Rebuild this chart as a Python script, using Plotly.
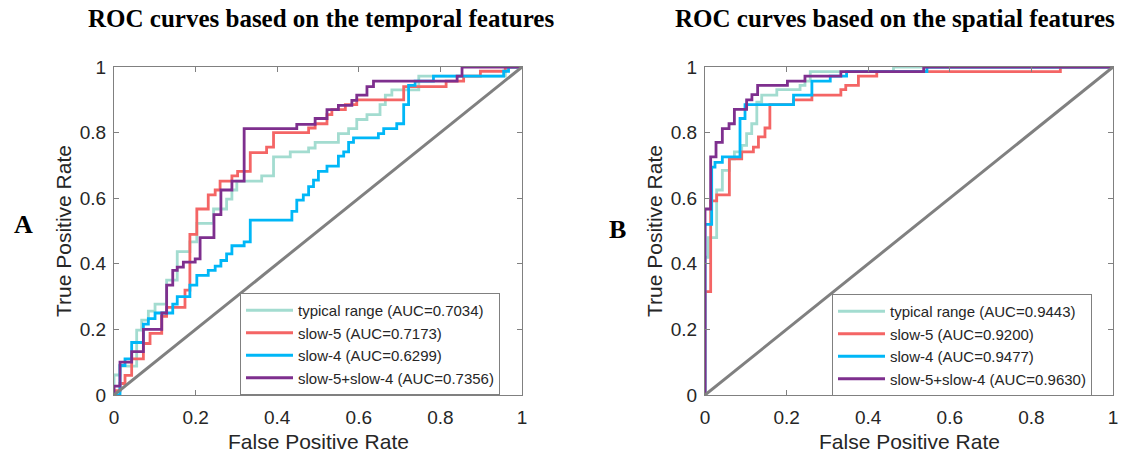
import plotly.graph_objects as go

# ---------------- data ----------------
SERIES = ["typical range", "slow-5", "slow-4", "slow-5+slow-4"]
AUC_A = ["0.7034", "0.7173", "0.6299", "0.7356"]
AUC_B = ["0.9443", "0.9200", "0.9477", "0.9630"]
TICKS = [0, 0.2, 0.4, 0.6, 0.8, 1]
TICK_TEXT = ["0", "0.2", "0.4", "0.6", "0.8", "1"]
DIAG = [0, 1]

# Panel A (temporal features): step corners (fpr where a jump happens, tpr after jump)
a_typ_fpr = [0, 0, 0.0147, 0.0556, 0.0679, 0.0842, 0.1006, 0.129, 0.155, 0.186, 0.203, 0.244, 0.276, 0.289, 0.301,
             0.362, 0.391, 0.432, 0.477, 0.493, 0.550, 0.575, 0.595, 0.620, 0.652, 0.665, 0.681, 0.747, 0.959, 1]
a_typ_tpr = [0, 0.061, 0.088, 0.198, 0.228, 0.256, 0.277, 0.35, 0.437, 0.467, 0.523, 0.567, 0.597, 0.625, 0.652,
             0.668, 0.726, 0.741, 0.753, 0.77, 0.797, 0.812, 0.84, 0.855, 0.885, 0.914, 0.93, 0.972, 1.0, 1]

a_s5_fpr = [0, 0, 0.0147, 0.027, 0.0433, 0.072, 0.0883, 0.117, 0.129, 0.174, 0.186, 0.203, 0.231, 0.248, 0.260,
            0.289, 0.303, 0.334, 0.374, 0.391, 0.477, 0.493, 0.522, 0.534, 0.567, 0.595, 0.710, 0.814, 0.857,
            0.898, 0.959, 1]
a_s5_tpr = [0, 0.013, 0.035, 0.06, 0.11, 0.157, 0.188, 0.24, 0.267, 0.32, 0.49, 0.567, 0.61, 0.625, 0.652,
            0.668, 0.682, 0.739, 0.756, 0.80, 0.814, 0.827, 0.855, 0.87, 0.885, 0.90, 0.94, 0.957, 0.972,
            0.987, 1.0, 1]

a_s4_fpr = [0, 0.0147, 0.027, 0.0433, 0.072, 0.0842, 0.1006, 0.144, 0.155, 0.186, 0.203, 0.231, 0.248, 0.262,
            0.276, 0.289, 0.319, 0.334, 0.436, 0.448, 0.464, 0.477, 0.489, 0.501, 0.522, 0.550, 0.563, 0.575,
            0.587, 0.648, 0.661, 0.693, 0.710, 0.722, 0.738, 0.783, 0.955, 0.967, 1]
a_s4_tpr = [0, 0.09, 0.11, 0.16, 0.216, 0.233, 0.25, 0.277, 0.30, 0.335, 0.365, 0.38, 0.393, 0.41,
            0.43, 0.455, 0.467, 0.533, 0.56, 0.594, 0.61, 0.635, 0.655, 0.682, 0.698, 0.728, 0.741, 0.77,
            0.784, 0.797, 0.812, 0.827, 0.885, 0.944, 0.957, 0.972, 0.987, 1.0, 1]

a_comb_fpr = [0, 0, 0.0147, 0.0433, 0.072, 0.117, 0.129, 0.144, 0.155, 0.170, 0.199, 0.211, 0.245, 0.262, 0.289,
              0.319, 0.448, 0.493, 0.522, 0.550, 0.583, 0.595, 0.620, 0.636, 0.841, 0.853, 1]
a_comb_tpr = [0, 0.027, 0.10, 0.132, 0.20, 0.25, 0.335, 0.38, 0.39, 0.405, 0.415, 0.48, 0.55, 0.625, 0.652,
              0.812, 0.825, 0.843, 0.87, 0.883, 0.898, 0.914, 0.94, 0.957, 0.972, 1.0, 1]

# Panel B (spatial features)
b_typ_fpr = [0, 0, 0.0082, 0.0286, 0.0425, 0.0597, 0.072, 0.090, 0.102, 0.1145, 0.127, 0.139, 0.176, 0.233,
             0.245, 0.258, 0.462, 1]
b_typ_tpr = [0, 0.42, 0.48, 0.625, 0.685, 0.72, 0.741, 0.761, 0.797, 0.827, 0.893, 0.914, 0.931, 0.944,
             0.957, 0.986, 1.0, 1]

b_s5_fpr = [0, 0, 0.0139, 0.0286, 0.0597, 0.090, 0.1186, 0.131, 0.147, 0.159, 0.217, 0.262, 0.333, 0.345,
            0.376, 0.421, 0.871, 1]
b_s5_tpr = [0, 0.315, 0.592, 0.61, 0.72, 0.741, 0.756, 0.787, 0.814, 0.885, 0.90, 0.914, 0.931, 0.944,
            0.972, 0.986, 1.0, 1]

b_s4_fpr = [0, 0, 0.0164, 0.0245, 0.0425, 0.0858, 0.0981, 0.217, 0.262, 0.307, 0.347, 0.544, 1]
b_s4_tpr = [0, 0.52, 0.695, 0.709, 0.726, 0.843, 0.885, 0.914, 0.957, 0.972, 0.986, 1.0, 1]

b_comb_fpr = [0, 0, 0.0139, 0.027, 0.0425, 0.0589, 0.072, 0.102, 0.115, 0.129, 0.202, 0.245, 0.333, 0.536, 1]
b_comb_tpr = [0, 0.567, 0.726, 0.77, 0.812, 0.827, 0.871, 0.90, 0.916, 0.944, 0.957, 0.972, 0.986, 1.0, 1]

COLORS = ["#a3dcd0", "#f46565", "#00b7f7", "#7e2f8e"]

panels = [
    ("x", "y", "legend", AUC_A, [(a_typ_fpr, a_typ_tpr), (a_s5_fpr, a_s5_tpr), (a_s4_fpr, a_s4_tpr), (a_comb_fpr, a_comb_tpr)]),
    ("x2", "y2", "legend2", AUC_B, [(b_typ_fpr, b_typ_tpr), (b_s5_fpr, b_s5_tpr), (b_s4_fpr, b_s4_tpr), (b_comb_fpr, b_comb_tpr)]),
]

fig = go.Figure()
for xa, ya, leg, aucs, curves in panels:
    for name, auc, color, (fx, ty) in zip(SERIES, aucs, COLORS, curves):
        fig.add_trace(go.Scatter(
            x=fx, y=ty, mode="lines", line=dict(color=color, width=2.8, shape="hv"),
            name=f"{name} (AUC={auc})", xaxis=xa, yaxis=ya, legend=leg))
    fig.add_trace(go.Scatter(x=DIAG, y=DIAG, mode="lines", line=dict(color="#808080", width=3),
                             showlegend=False, xaxis=xa, yaxis=ya, hoverinfo="skip"))

W, H = 1126, 454


def px(x):
    return x / W


def py(y):
    return 1 - y / H


axcommon = dict(range=[0, 1], tickvals=TICKS, ticktext=TICK_TEXT, ticks="inside", ticklen=5,
                tickcolor="#808080", showline=True, linecolor="#808080", linewidth=1, mirror="ticks",
                showgrid=False, zeroline=False, automargin=False,
                tickfont=dict(family="Liberation Sans", size=19, color="#262626"),
                fixedrange=True)

legfont = dict(family="Liberation Sans", size=15, color="#262626")
fig.update_layout(
    width=W, height=H, margin=dict(l=0, r=0, t=0, b=0),
    paper_bgcolor="white", plot_bgcolor="white",
    xaxis=dict(domain=[px(114), px(522)], anchor="y", ticklabelstandoff=5, **axcommon),
    yaxis=dict(domain=[py(395), py(67)], anchor="x", ticklabelstandoff=3, **axcommon),
    xaxis2=dict(domain=[px(705), px(1113)], anchor="y2", ticklabelstandoff=5, **axcommon),
    yaxis2=dict(domain=[py(395), py(67)], anchor="x2", ticklabelstandoff=3, **axcommon),
    legend=dict(x=px(240), y=py(293), xanchor="left", yanchor="top", bgcolor="white",
                bordercolor="#808080", borderwidth=1, itemwidth=47, font=legfont, tracegroupgap=0),
    legend2=dict(x=px(832), y=py(294), xanchor="left", yanchor="top", bgcolor="white",
                 bordercolor="#808080", borderwidth=1, itemwidth=47, font=legfont, tracegroupgap=0),
    showlegend=True,
)

ann_font = dict(family="Liberation Sans", size=21, color="#262626")
title_font = dict(family="Liberation Serif", size=25, color="black")
annotations = [
    dict(text="<b>ROC curves based on the temporal features</b>", x=px(321), y=py(19), font=title_font),
    dict(text="<b>ROC curves based on the spatial features</b>", x=px(895), y=py(19), font=title_font),
    dict(text="<b>A</b>", x=px(23), y=py(225), font=dict(family="Liberation Serif", size=26, color="black")),
    dict(text="<b>B</b>", x=px(617), y=py(229), font=dict(family="Liberation Serif", size=26, color="black")),
    dict(text="False Positive Rate", x=px(318), y=py(441), font=ann_font),
    dict(text="False Positive Rate", x=px(909), y=py(441), font=ann_font),
    dict(text="True Positive Rate", x=px(64), y=py(231), font=ann_font, textangle=-90),
    dict(text="True Positive Rate", x=px(655), y=py(231), font=ann_font, textangle=-90),
]
for a in annotations:
    a.update(xref="paper", yref="paper", showarrow=False, xanchor="center", yanchor="middle", borderpad=0)
fig.update_layout(annotations=annotations)

# remove the default 8px body margin so the figure sits at the page corner
fig.write_html("out.html", config={"displayModeBar": False},
               post_script="document.body.style.margin='0';document.body.style.overflow='hidden';")
